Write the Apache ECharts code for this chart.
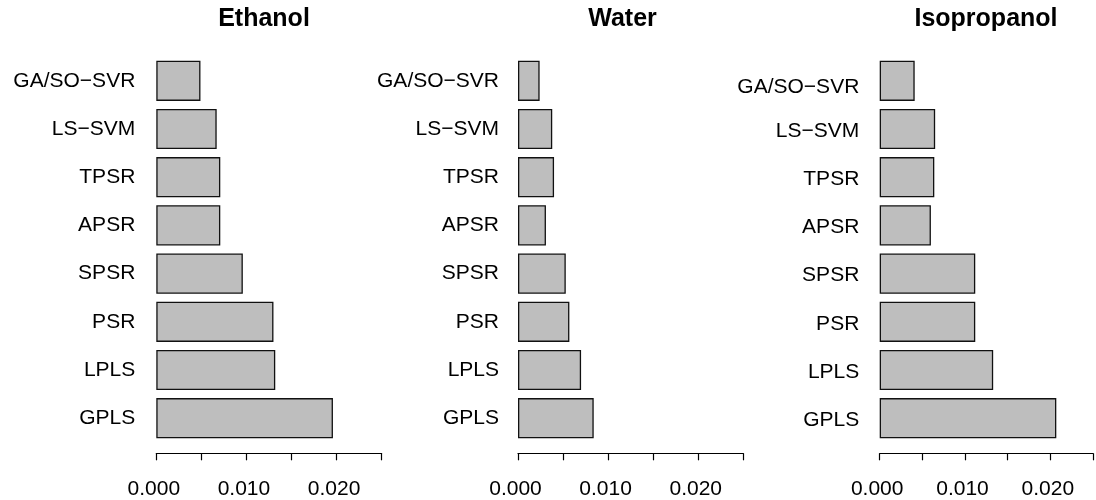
<!DOCTYPE html>
<html><head><meta charset="utf-8">
<script src="https://cdn.jsdelivr.net/npm/echarts@6/dist/echarts.min.js"></script>
<style>html,body{margin:0;padding:0;background:#fff}#c{width:1096px;height:500px}</style>
</head><body><div id="c"></div>
<script>
const categories = ['GPLS', 'LPLS', 'PSR', 'SPSR', 'APSR', 'TPSR', 'LS−SVM', 'GA/SO−SVR'];
const panelTitles = ['Ethanol', 'Water', 'Isopropanol'];
const ethanol = [0.0196, 0.0132, 0.0130, 0.0096, 0.0071, 0.0071, 0.0067, 0.0049];
const water = [0.0084, 0.0070, 0.0057, 0.0053, 0.0031, 0.0040, 0.0038, 0.0024];
const isopropanol = [0.0207, 0.0133, 0.0112, 0.0112, 0.0060, 0.0064, 0.0065, 0.0041];
const xTickLabels = ['0.000', '', '0.010', '', '0.020', ''];

const panelValues = [ethanol, water, isopropanol];
const gridLefts = [156.3, 518, 879.7];
const titleCenters = [264, 622.5, 986];
const labelMargins = [21, 19, 20.4];
const FONT = "'Liberation Sans', Arial, Helvetica, sans-serif";

const chart = echarts.init(document.getElementById('c'), null, {renderer: 'canvas'});
const grids = [], xAxes = [], yAxes = [], series = [], graphics = [];
panelValues.forEach((vals, i) => {
  grids.push({left: gridLefts[i], width: 225.3, top: 56.7, height: 385.6, containLabel: false});
  xAxes.push({
    type: 'value', gridIndex: i, min: 0, max: 0.025, interval: 0.005, offset: 11,
    axisLine: {show: true, lineStyle: {color: '#000', width: 1.2}},
    axisTick: {show: true, length: 7, lineStyle: {color: '#000', width: 1.2}},
    axisLabel: {show: true, margin: 25, color: '#000', fontSize: 21, fontFamily: FONT,
      padding: [0, 5, 0, 0],
      formatter: (v, idx) => xTickLabels[idx] !== undefined ? xTickLabels[idx] : ''},
    splitLine: {show: false}
  });
  const yLabel = {show: true, margin: labelMargins[i], color: '#000', fontSize: 21, fontFamily: FONT};
  if (i === 2) {
    yLabel.padding = [4, 0, 0, 0];
    yLabel.formatter = (v, idx) => idx === categories.length - 1 ? '{t|' + v + '}' : v;
    yLabel.rich = {t: {padding: [9, 0, 0, 0], fontSize: 21, fontFamily: FONT, color: '#000'}};
  }
  yAxes.push({
    type: 'category', gridIndex: i, data: categories,
    axisLine: {show: false}, axisTick: {show: false}, splitLine: {show: false},
    axisLabel: yLabel
  });
  series.push({
    type: 'bar', xAxisIndex: i, yAxisIndex: i, data: vals, barCategoryGap: '16.7%',
    itemStyle: {color: '#bebebe', borderColor: '#111', borderWidth: 1.3},
    silent: true
  });
  graphics.push({
    type: 'text', x: titleCenters[i], y: 19,
    style: {text: panelTitles[i], textAlign: 'center', textVerticalAlign: 'middle',
      font: "bold 25px " + FONT, fill: '#000'}
  });
});

chart.setOption({
  animation: false,
  backgroundColor: '#fff',
  grid: grids, xAxis: xAxes, yAxis: yAxes, series: series,
  graphic: graphics
});
</script></body></html>
